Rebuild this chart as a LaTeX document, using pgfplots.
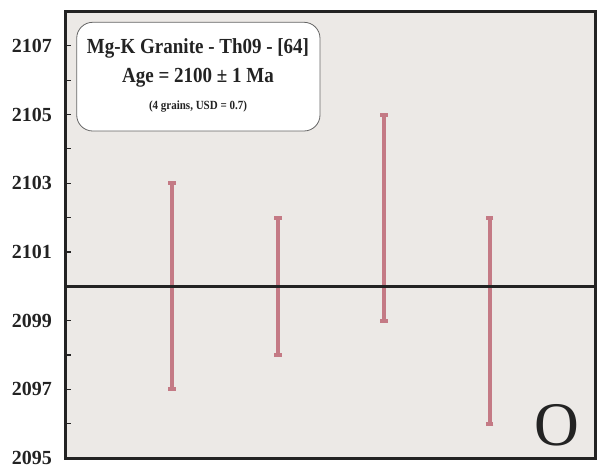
\documentclass[border=0pt]{standalone}
\usepackage{pgfplots}
\pgfplotsset{compat=1.18}
\usepackage{fontspec}
\setmainfont{Liberation Serif}
\definecolor{bgc}{RGB}{236,233,230}
\definecolor{barc}{RGB}{196,122,133}
\definecolor{framec}{RGB}{35,35,35}
\begin{document}
\begin{tikzpicture}
\begin{axis}[
 at={(0,0)}, anchor=south west,
 scale only axis,
 width=529.5pt, height=446.5pt,
 xmin=0, xmax=5, ymin=2095, ymax=2108,
 xtick=\empty,
 ytick={2095,2097,2099,2101,2103,2105,2107},
 yticklabels={2095,2097,2099,2101,2103,2105,2107},
 minor ytick={2096,2098,2100,2102,2104,2106},
 ytick pos=left,
 tick align=inside,
 major tick length=5pt, minor tick length=5pt,
 every tick/.style={framec, line width=1.2pt},
 yticklabel style={font=\bfseries\fontsize{20}{20}\selectfont, inner sep=0pt, xshift=-14pt, text=framec},
 axis line style={framec, line width=3pt},
 axis background/.style={fill=bgc},
 clip=false,
]
% error bars (grain ages)
\addplot[barc, line width=4pt] coordinates {(1,2097) (1,2103)};
\addplot[barc, line width=4pt] coordinates {(2,2098) (2,2102)};
\addplot[barc, line width=4pt] coordinates {(3,2099) (3,2105)};
\addplot[barc, line width=4pt] coordinates {(4,2096) (4,2102)};
% caps
\addplot[only marks, mark=-, mark size=3.8pt, barc, mark options={line width=4pt, barc}] coordinates {(1,2097) (1,2103) (2,2098) (2,2102) (3,2099) (3,2105) (4,2096) (4,2102)};
% mean age line
\addplot[framec, line width=3.5pt] coordinates {(0,2100) (5,2100)};
% text box
\draw[rounded corners=16pt, fill=white, draw=black!60, line width=0.8pt]
  ([shift={(10.7pt,327pt)}]rel axis cs:0,0) rectangle ([shift={(254pt,435.7pt)}]rel axis cs:0,0);
\node[anchor=base, inner sep=0pt, text=framec, font=\bfseries\fontsize{19}{19}\selectfont]
  at ([shift={(132pt,404pt)}]rel axis cs:0,0) {\scalebox{1}[1.13]{Mg-K Granite - Th09 - [64]}};
\node[anchor=base, inner sep=0pt, text=framec, font=\bfseries\fontsize{19}{19}\selectfont]
  at ([shift={(132pt,375pt)}]rel axis cs:0,0) {\scalebox{1}[1.13]{Age = 2100 ± 1 Ma}};
\node[anchor=base, inner sep=0pt, text=framec, font=\bfseries\fontsize{11}{11}\selectfont]
  at ([shift={(132pt,348pt)}]rel axis cs:0,0) {\scalebox{1}[1.13]{(4 grains, USD = 0.7)}};
\node[anchor=base east, inner sep=0pt, text=framec, font=\fontsize{62}{62}\selectfont]
  at ([shift={(513pt,13pt)}]rel axis cs:0,0) {O};
\end{axis}
\pgfresetboundingbox
\path[use as bounding box] (-66pt,-6pt) rectangle (531pt,458pt);
\end{tikzpicture}
\end{document}
